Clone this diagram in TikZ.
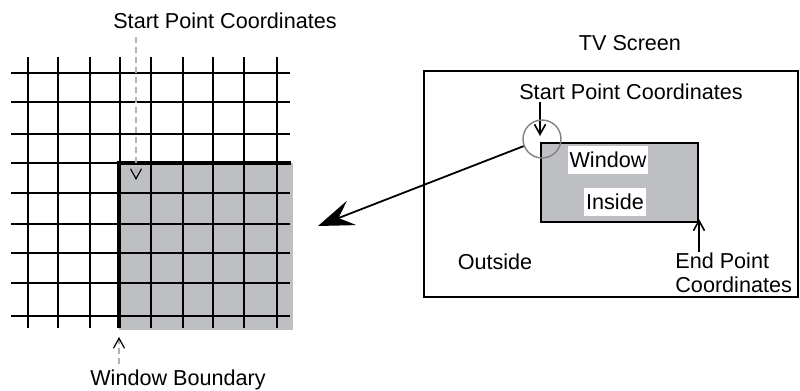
\documentclass[tikz,border=0pt]{standalone}
\usepackage{fontspec}
\setmainfont{Liberation Sans}
\usetikzlibrary{arrows.meta,positioning,calc}
\definecolor{wingray}{RGB}{190,191,195}
\tikzset{
  lbl/.style={inner sep=1pt, font=\fontsize{10.8}{12}\selectfont},
  gridline/.style={line width=1.1pt},
  pointer/.style={-{Straight Barb[length=5pt,width=5.5pt,color=black]}, line width=0.8pt},
  guide/.style={pointer, gray!60, line width=0.6pt, dash pattern=on 3pt off 2pt},
}

\begin{document}
\begin{tikzpicture}[x=0.5pt, y=-0.5pt, >={Straight Barb[length=4pt,width=5pt]}]
\useasboundingbox (0,0) rectangle (800,391);

% zoomed pixel grid
\fill[wingray] (119,163) rectangle (293,330);
\foreach \x in {28,58,90,120,151,183,213,244,277}
  \draw[gridline] (\x,57) -- (\x,328);
\foreach \y in {73,102,134,163,193,224,253,283,316}
  \draw[gridline] (11,\y) -- (290,\y);
\draw[line width=2.2pt] (119,328) -- (119,163) -- (291,163);

\node[lbl] (gridstart) at (225,21) {Start Point Coordinates};
\coordinate (gridcorner) at (136,180);
\draw[guide, shorten <=3pt] (gridstart.south -| gridcorner) -- (gridcorner);

\node[lbl] (boundary) at (178,380) {Window Boundary};
\coordinate (boundfoot) at (119,337);
\draw[guide, shorten <=2pt] (boundary.north -| boundfoot) -- (boundfoot);

% tv screen
\node[draw, line width=1pt, minimum width=187pt, minimum height=113pt] (screen) at (611,184) {};
\node[lbl] (tvlabel) at (630,43) {TV Screen};
\node[draw, fill=wingray, line width=1pt, minimum width=78.5pt, minimum height=39.5pt, inner sep=0] (win) at (619.5,182.5) {};
\node[lbl, fill=white, inner ysep=3pt] (winlabel) at (608,160) {Window};
\node[lbl, fill=white, inner ysep=3pt] (insidelabel) at (615,202) {Inside};
\node[lbl] (outside) at (495,262) {Outside};
\node[lbl, align=left, anchor=north west, inner sep=0] (endpt) at (675,252) {End Point\\Coordinates};
\node[lbl] (scrstart) at (631,92) {Start Point Coordinates};

\draw[pointer, shorten >=3pt] (scrstart.south -| win.north west) -- (win.north west);
\draw[pointer, shorten >=-2pt] (endpt.north -| win.south east) -- (win.south east);

\node[circle, draw=gray, line width=0.7pt, minimum size=19pt, inner sep=0] (zoomcirc) at (542,139) {};
\coordinate (gridview) at (318,226);
\draw[-{Stealth[length=18pt,width=13pt,inset=7pt]}, line width=0.9pt] (zoomcirc) -- (gridview);
\end{tikzpicture}
\end{document}
